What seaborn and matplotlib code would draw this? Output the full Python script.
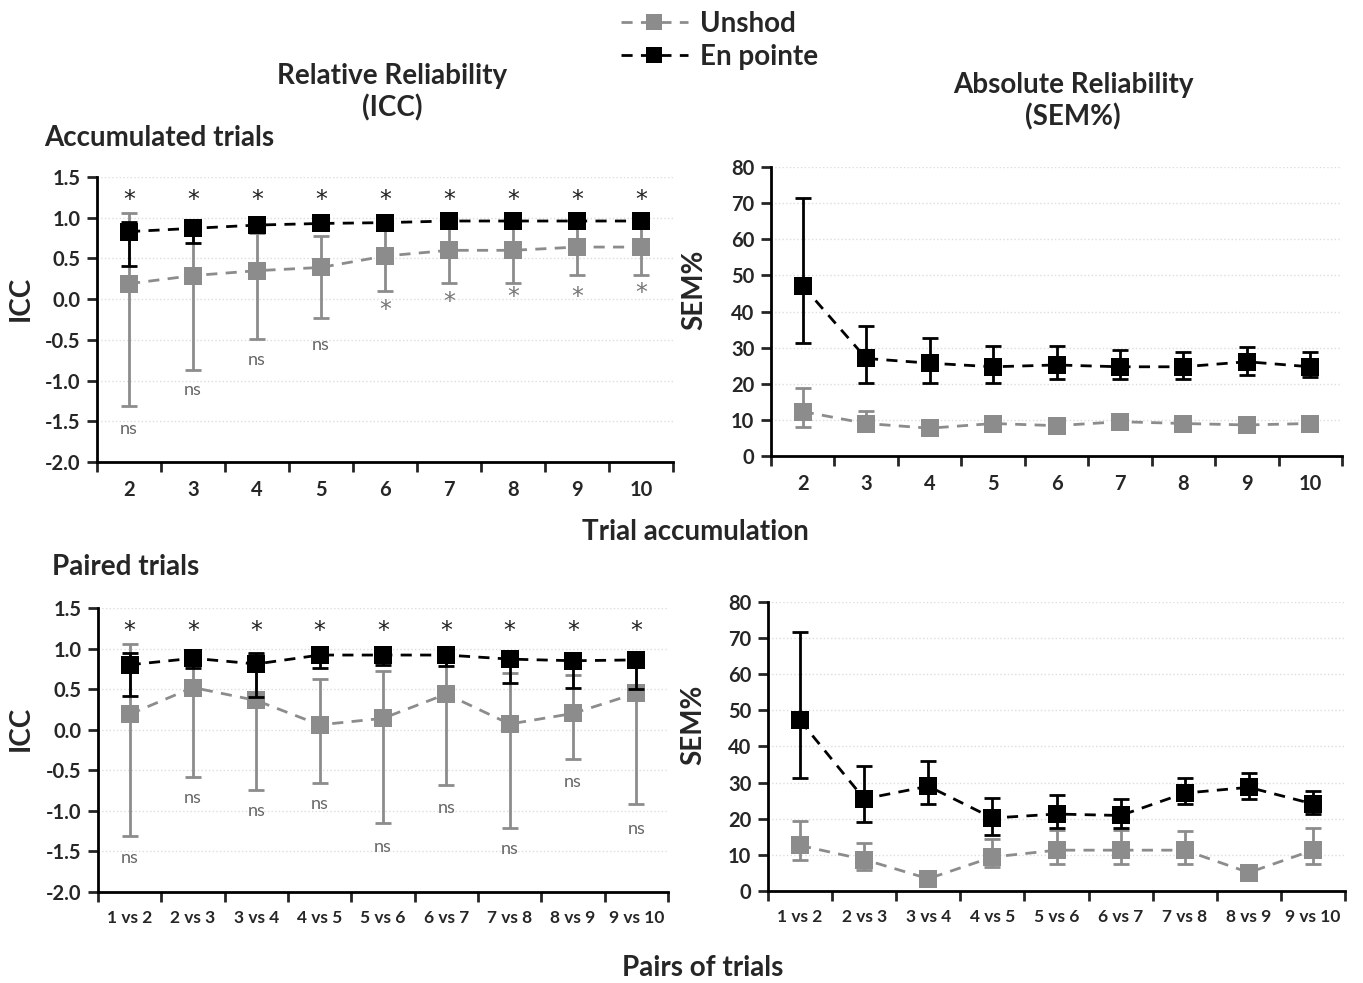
import numpy as np
import pandas as pd
import seaborn as sns
import matplotlib.pyplot as plt
from matplotlib.lines import Line2D

sns.set_style("white")
plt.rcParams['font.family'] = ['Lato', 'DejaVu Sans']

GRAY = '#8c8c8c'
DASH = (4, 3)

accum_labels = ['2', '3', '4', '5', '6', '7', '8', '9', '10']
pair_labels = ['1 vs 2', '2 vs 3', '3 vs 4', '4 vs 5', '5 vs 6',
               '6 vs 7', '7 vs 8', '8 vs 9', '9 vs 10']

# ICC, accumulated trials
icc_acc_unshod = [0.19, 0.29, 0.35, 0.39, 0.53, 0.60, 0.60, 0.64, 0.64]
icc_acc_unshod_lo = [-1.31, -0.87, -0.49, -0.23, 0.10, 0.20, 0.20, 0.30, 0.30]
icc_acc_unshod_hi = [1.06, 0.85, 0.81, 0.78, 0.90, 0.94, 0.94, 0.95, 0.95]
icc_acc_pointe = [0.83, 0.87, 0.91, 0.93, 0.94, 0.96, 0.96, 0.96, 0.96]
icc_acc_pointe_lo = [0.41, 0.69, 0.86, 0.89, 0.91, 0.94, 0.94, 0.94, 0.94]
icc_acc_pointe_hi = [0.95, 0.95, 0.95, 0.96, 0.97, 0.98, 0.98, 0.98, 0.98]
icc_acc_marks = ['ns', 'ns', 'ns', 'ns', '*', '*', '*', '*', '*']
icc_acc_marks_y = [-1.60, -1.12, -0.75, -0.56, -0.13, -0.03, 0.03, 0.03, 0.08]

# SEM%, accumulated trials
sem_acc_unshod = [12.3, 9.0, 7.7, 9.0, 8.4, 9.5, 9.0, 8.6, 9.0]
sem_acc_unshod_lo = [8.1, 7.0, 6.5, 7.6, 7.2, 8.2, 7.8, 7.4, 7.8]
sem_acc_unshod_hi = [18.7, 12.5, 9.5, 10.5, 9.8, 10.8, 10.3, 10.0, 10.3]
sem_acc_pointe = [47.1, 27.0, 25.7, 24.7, 25.2, 24.7, 24.7, 26.1, 24.7]
sem_acc_pointe_lo = [31.2, 20.3, 20.3, 20.3, 21.4, 21.4, 21.4, 22.4, 22.0]
sem_acc_pointe_hi = [71.4, 36.1, 32.8, 30.5, 30.5, 29.4, 28.9, 30.1, 28.7]

# ICC, paired trials
icc_pair_unshod = [0.19, 0.52, 0.36, 0.06, 0.14, 0.44, 0.07, 0.20, 0.45]
icc_pair_unshod_lo = [-1.31, -0.58, -0.74, -0.66, -1.15, -0.68, -1.21, -0.36, -0.92]
icc_pair_unshod_hi = [1.05, 0.90, 0.93, 0.63, 0.72, 0.95, 0.70, 0.68, 0.95]
icc_pair_pointe = [0.80, 0.88, 0.81, 0.92, 0.92, 0.92, 0.87, 0.85, 0.86]
icc_pair_pointe_lo = [0.41, 0.76, 0.40, 0.76, 0.80, 0.78, 0.58, 0.51, 0.50]
icc_pair_pointe_hi = [0.94, 0.95, 0.95, 0.97, 0.97, 0.97, 0.95, 0.95, 0.93]
icc_pair_marks = ['ns'] * 9
icc_pair_marks_y = [-1.58, -0.84, -1.00, -0.91, -1.44, -0.96, -1.47, -0.64, -1.23]

# SEM%, paired trials
sem_pair_unshod = [12.6, 8.7, 3.4, 9.4, 11.3, 11.3, 11.3, 5.1, 11.3]
sem_pair_unshod_lo = [8.7, 5.8, 2.5, 6.7, 7.6, 7.6, 7.6, 4.0, 7.6]
sem_pair_unshod_hi = [19.3, 13.2, 4.5, 14.3, 17.0, 17.0, 16.7, 6.5, 17.3]
sem_pair_pointe = [47.2, 25.5, 29.0, 20.2, 21.3, 20.9, 27.1, 28.7, 24.1]
sem_pair_pointe_lo = [31.3, 19.0, 24.1, 15.6, 17.5, 17.5, 24.1, 25.5, 21.2]
sem_pair_pointe_hi = [71.7, 34.7, 36.1, 25.8, 26.7, 25.5, 31.3, 32.8, 27.8]


def panel(ax, labels, un, un_lo, un_hi, po, po_lo, po_hi, yticks, fmt, ylabel, label_x):
    pos = np.arange(len(labels))
    df = pd.DataFrame({
        'pos': np.concatenate([pos, pos]),
        'val': un + po,
        'cond': ['Unshod'] * len(un) + ['En pointe'] * len(po),
    })
    # error bars first so markers sit on top
    ax.errorbar(pos, un, yerr=[np.array(un) - np.array(un_lo), np.array(un_hi) - np.array(un)],
                fmt='none', ecolor=GRAY, elinewidth=2, capsize=6, capthick=2, zorder=1)
    ax.errorbar(pos, po, yerr=[np.array(po) - np.array(po_lo), np.array(po_hi) - np.array(po)],
                fmt='none', ecolor='black', elinewidth=2, capsize=6, capthick=2, zorder=3)
    sns.lineplot(data=df, x='pos', y='val', hue='cond', style='cond',
                 hue_order=['Unshod', 'En pointe'],
                 palette={'Unshod': GRAY, 'En pointe': 'black'},
                 markers={'Unshod': 's', 'En pointe': 's'},
                 dashes={'Unshod': DASH, 'En pointe': DASH},
                 markersize=12.5, markeredgewidth=0, linewidth=2,
                 legend=False, ax=ax, zorder=4)
    ax.lines[-2].set_zorder(2)
    ax.set_xlim(-0.5, len(labels) - 0.5)
    ax.set_ylim(yticks[0], yticks[-1])
    ax.set_yticks(yticks)
    ax.set_yticklabels([fmt.format(v) for v in yticks], fontsize=14.5, fontweight='bold')
    ax.set_xticks(pos)
    ax.set_xticklabels(labels, fontsize=14.5 if len(labels[0]) < 3 else 12.5, fontweight='bold')
    ax.set_xticks(np.arange(-0.5, len(labels)), minor=True)
    ax.tick_params(axis='x', which='major', length=0, pad=13)
    ax.tick_params(axis='x', which='minor', length=7, width=2, direction='out', bottom=True)
    ax.tick_params(axis='y', length=7, width=2, direction='out', left=True, pad=5)
    for s in ['top', 'right']:
        ax.spines[s].set_visible(False)
    for s in ['left', 'bottom']:
        ax.spines[s].set_linewidth(2)
        ax.spines[s].set_color('black')
    for v in yticks[1:]:
        ax.axhline(v, color='#dddddd', lw=1, ls=':', zorder=0)
    ax.set_xlabel('')
    ax.set_ylabel(ylabel, fontsize=20, fontweight='bold')
    ax.yaxis.set_label_coords(label_x, 0.575)


fig = plt.figure(figsize=(13.63, 9.83), dpi=100)
ax_tl = fig.add_axes([0.0712, 0.530, 0.4226, 0.2899])
ax_tr = fig.add_axes([0.5657, 0.5361, 0.4189, 0.2940])
ax_bl = fig.add_axes([0.0719, 0.0926, 0.4182, 0.2889])
ax_br = fig.add_axes([0.5635, 0.0936, 0.4233, 0.2940])

icc_ticks = np.arange(-2.0, 1.51, 0.5)
sem_ticks = np.arange(0, 81, 10)

panel(ax_tl, accum_labels, icc_acc_unshod, icc_acc_unshod_lo, icc_acc_unshod_hi,
      icc_acc_pointe, icc_acc_pointe_lo, icc_acc_pointe_hi, icc_ticks, '{:.1f}', 'ICC', -0.11)
panel(ax_tr, accum_labels, sem_acc_unshod, sem_acc_unshod_lo, sem_acc_unshod_hi,
      sem_acc_pointe, sem_acc_pointe_lo, sem_acc_pointe_hi, sem_ticks, '{:.0f}', 'SEM%', -0.112)
panel(ax_bl, pair_labels, icc_pair_unshod, icc_pair_unshod_lo, icc_pair_unshod_hi,
      icc_pair_pointe, icc_pair_pointe_lo, icc_pair_pointe_hi, icc_ticks, '{:.1f}', 'ICC', -0.113)
panel(ax_br, pair_labels, sem_pair_unshod, sem_pair_unshod_lo, sem_pair_unshod_hi,
      sem_pair_pointe, sem_pair_pointe_lo, sem_pair_pointe_hi, sem_ticks, '{:.0f}', 'SEM%', -0.107)

# significance marks on the ICC panels
for ax, marks, marks_y in [(ax_tl, icc_acc_marks, icc_acc_marks_y),
                           (ax_bl, icc_pair_marks, icc_pair_marks_y)]:
    for i, (m, y) in enumerate(zip(marks, marks_y)):
        ax.text(i, 1.22, '*', ha='center', va='center', fontsize=17, color='#222222',
                family='DejaVu Sans')
        if m == '*':
            ax.text(i, y, '*', ha='center', va='center', fontsize=17, color='#777777',
                    family='DejaVu Sans')
        else:
            ax.text(i, y, m, ha='center', va='center', fontsize=13, color='#666666')

# headings
fig.text(392 / 1363, 1 - 92 / 983, 'Relative Reliability\n(ICC)', ha='center', va='center',
         fontsize=20, fontweight='bold', linespacing=1.25)
fig.text(1073 / 1363, 1 - 101 / 983, 'Absolute Reliability\n(SEM%)', ha='center', va='center',
         fontsize=20, fontweight='bold', linespacing=1.25)
fig.text(44 / 1363, 1 - 138 / 983, 'Accumulated trials', ha='left', va='center',
         fontsize=20, fontweight='bold')
fig.text(52 / 1363, 1 - 567 / 983, 'Paired trials', ha='left', va='center',
         fontsize=20, fontweight='bold')
fig.text(695 / 1363, 1 - 532 / 983, 'Trial accumulation', ha='center', va='center',
         fontsize=20, fontweight='bold')
fig.text(703 / 1363, 1 - 968 / 983, 'Pairs of trials', ha='center', va='center',
         fontsize=20, fontweight='bold')

handles = [Line2D([], [], color=GRAY, ls=(0, DASH), lw=2, marker='s', markersize=12,
                  markeredgewidth=0),
           Line2D([], [], color='black', ls=(0, DASH), lw=2, marker='s', markersize=12,
                  markeredgewidth=0)]
fig.legend(handles, ['Unshod', 'En pointe'], loc='upper left',
           bbox_to_anchor=(621 / 1363, 0.989), frameon=False, handlelength=2.4,
           handletextpad=0.45, labelspacing=0.25, borderpad=0, borderaxespad=0,
           prop={'size': 20, 'weight': 'bold'})

fig.savefig('out.png', dpi=100)
